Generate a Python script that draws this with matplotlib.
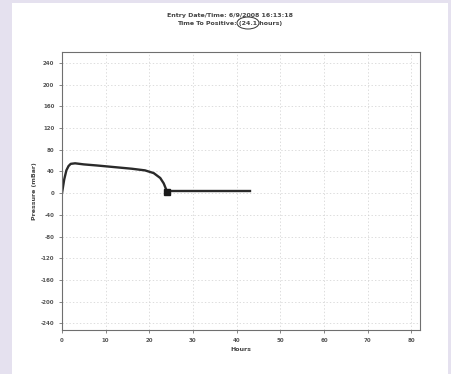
import matplotlib.pyplot as plt
from matplotlib.patches import Rectangle, Ellipse

# values
hours = [0, 0.5, 1, 1.5, 2, 3, 5, 8, 12, 16, 19, 21, 22.5, 23.3, 23.8, 24.1]
pressure = [0, 25, 42, 50, 54, 55, 53, 51, 48, 45, 42, 37, 28, 18, 8, 2]
flat_hours = [24.1, 43.1]
flat_pressure = [4, 4]
pos_hour = 24.1
pos_pressure = 3

yticks = [240, 200, 160, 120, 80, 40, 0, -40, -80, -120, -160, -200, -240]
xticks = [0, 10, 20, 30, 40, 50, 60, 70, 80]

W, H = 451, 374
fig = plt.figure(figsize=(W / 100, H / 100), dpi=100, facecolor='#e5e1ef')
fig.patches.append(Rectangle((12 / W, 0), 436 / W, 371 / H, transform=fig.transFigure,
                             facecolor='white', edgecolor='none', zorder=-5))

ax = fig.add_axes([62 / W, 44 / H, 358 / W, 278 / H])
ax.set_zorder(2)
ax.set_facecolor('white')
ax.plot(hours, pressure, color='#2a2a2a', lw=1.7)
ax.plot(flat_hours, flat_pressure, color='#2a2a2a', lw=1.7)
ax.plot([pos_hour], [pos_pressure], marker='s', color='#1a1a1a', ms=4)

ax.set_xlim(0, 82)
ax.set_ylim(-252, 260)
ax.set_xticks(xticks)
ax.set_yticks(yticks)
ax.set_yticklabels([str(v) for v in yticks])
ax.tick_params(labelsize=4, colors='#555555', length=2, width=0.5)
for lab in ax.get_xticklabels() + ax.get_yticklabels():
    lab.set_fontweight('bold')
ax.grid(True, color='#cfcfcf', lw=0.5, ls=(0, (2, 3)))
for s in ax.spines.values():
    s.set_color('#6f6f6f')
    s.set_linewidth(0.8)

ax.set_xlabel('Hours', fontsize=4.5, color='#444444', fontweight='bold', labelpad=3)
ax.set_ylabel('Pressure (mBar)', fontsize=4.5, color='#444444', fontweight='bold', labelpad=3)

fig.text(0.51, 0.955, 'Entry Date/Time: 6/9/2008 16:13:18', ha='center', fontsize=4.5,
         color='#444444', fontweight='bold')
fig.text(0.51, 0.933, 'Time To Positive: (24.1 hours)', ha='center', fontsize=4.5,
         color='#444444', fontweight='bold')
fig.patches.append(Ellipse((248 / W, 1 - 23 / H), 22 / W, 12 / H, transform=fig.transFigure,
                           facecolor='none', edgecolor='#333333', lw=0.7, zorder=3))

fig.savefig('out.png', dpi=100, facecolor=fig.get_facecolor())
